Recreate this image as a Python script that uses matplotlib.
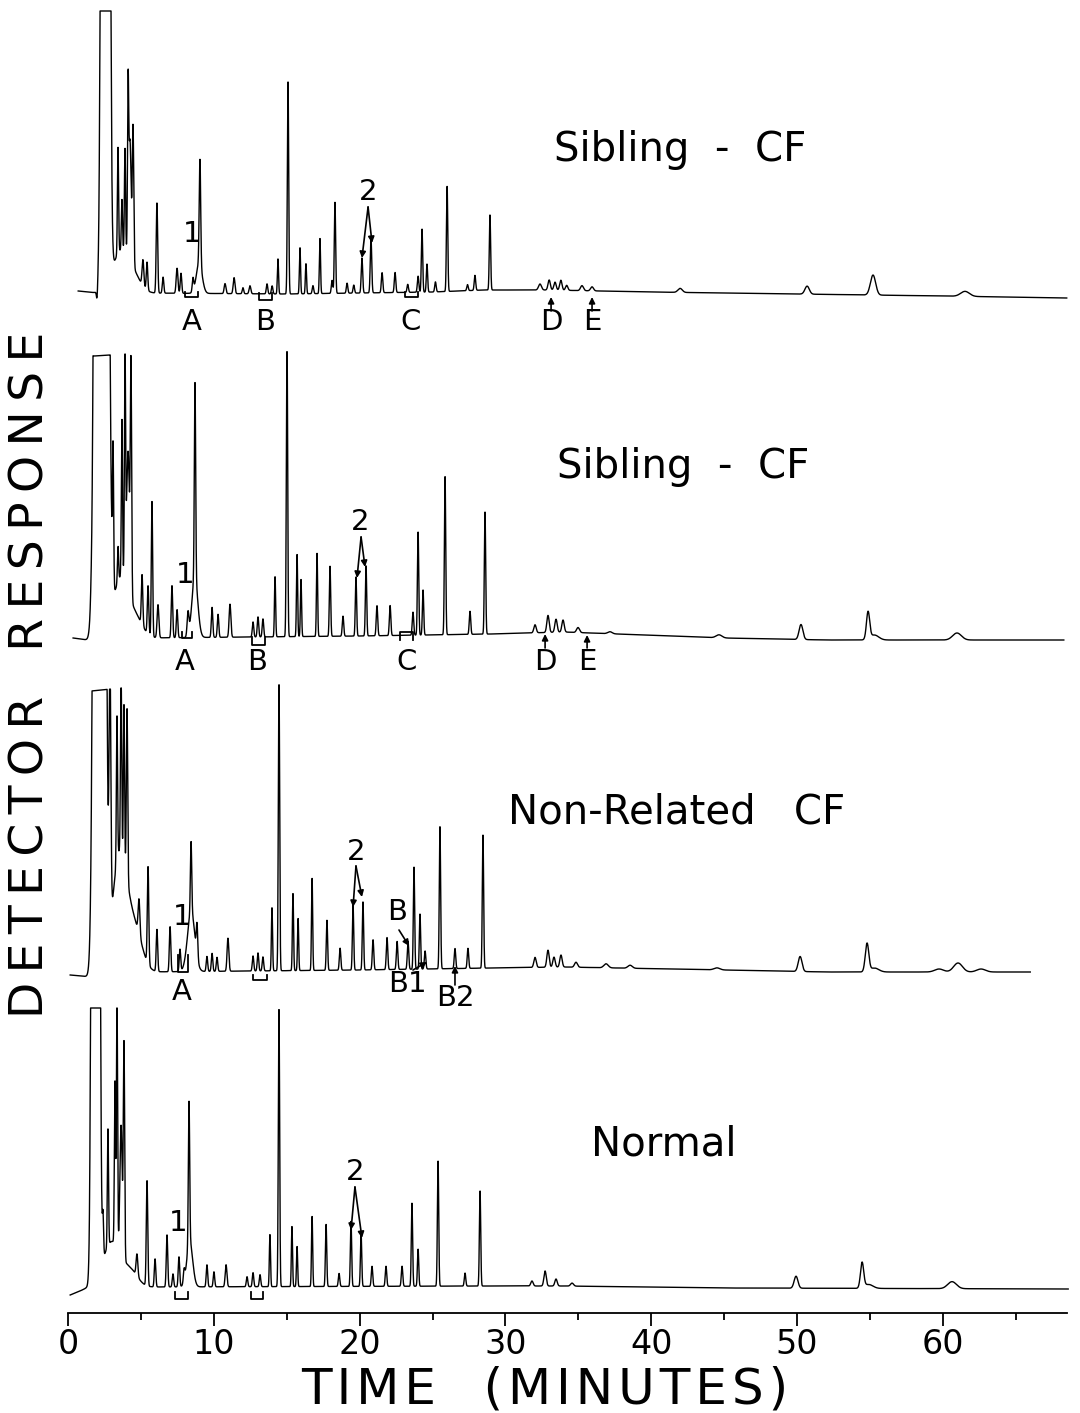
import numpy as np
import matplotlib.pyplot as plt

# Four gas chromatograms (recorder traces).
# retention time (min), peak height (recorder units), peak width sigma (min)

sib1_rt = [1.99, 2.57, 3.6, 4.5, 3.43, 3.70, 3.91, 4.12, 4.25, 4.46, 5.14, 5.42, 6.10, 6.52,
           7.48, 7.75, 8.57, 9.0, 9.05, 10.77, 11.39, 12.0, 12.48, 13.65, 14.0, 14.40, 15.09,
           15.91, 16.32, 16.8, 17.28, 18.11, 18.31, 19.14, 19.6, 20.16, 20.78, 21.54, 22.43,
           23.3, 24.01, 24.28, 24.62, 25.2, 26.0, 27.4, 27.91, 28.94, 32.37, 33.0, 33.4, 33.8,
           34.2, 35.25, 35.94, 41.98, 50.69, 55.21, 61.52]
sib1_height = [-10, 5000, 40, 15, 106, 50, 103, 153, 120, 138, 26, 28, 90, 16,
               25, 20, 13, 30, 105, 10, 16, 6, 8, 10, 8, 35, 212,
               46, 30, 8, 55, 13, 91, 10, 8, 35, 55, 20, 20,
               8, 16, 63, 28, 10, 105, 6, 15, 75, 6, 10, 8, 10,
               5, 5, 4, 4, 8, 20, 5]
sib1_width = [0.04, 0.157, 0.55, 0.5, 0.04, 0.04, 0.04, 0.04, 0.08, 0.05, 0.06, 0.05, 0.05, 0.05,
              0.06, 0.05, 0.05, 0.2, 0.05, 0.06, 0.06, 0.05, 0.06, 0.05, 0.05, 0.04, 0.045,
              0.04, 0.04, 0.05, 0.04, 0.05, 0.045, 0.05, 0.05, 0.05, 0.05, 0.05, 0.05,
              0.05, 0.05, 0.045, 0.045, 0.05, 0.045, 0.05, 0.05, 0.045, 0.1, 0.08, 0.08, 0.08,
              0.08, 0.1, 0.1, 0.15, 0.15, 0.18, 0.3]
sib1_base_t = [0.7, 2.0, 5, 15, 25, 28.5, 33, 40, 50, 60, 68.5]
sib1_base_y = [291, 293, 293, 294, 292, 290, 290, 292, 294, 296, 298]

sib2_rt = [1.65, 2.30, 3.6, 4.6, 3.09, 3.43, 3.70, 3.91, 4.12, 4.32, 5.08, 5.49, 5.76, 6.17,
           7.13, 7.48, 8.23, 8.7, 8.71, 9.88, 10.29, 11.11, 12.69, 13.03, 13.37, 14.2, 15.02,
           15.71, 15.98, 17.08, 17.97, 18.86, 19.75, 20.44, 21.19, 22.09, 23.66, 24.01, 24.35,
           25.86, 27.57, 28.6, 32.03, 32.92, 33.47, 33.95, 34.98, 37.17, 44.65, 50.27, 54.87,
           55.3, 60.97]
sib2_height = [-12, 5000, 60, 20, 135, 35, 157, 220, 140, 225, 50, 48, 135, 33,
               52, 28, 23, 60, 195, 30, 23, 33, 15, 20, 18, 60, 300,
               82, 57, 83, 70, 20, 59, 70, 30, 30, 23, 103, 45,
               158, 23, 122, 8, 17, 13, 12, 5, 2, 3, 15, 27,
               5, 7]
sib2_width = [0.04, 0.245, 0.5, 0.5, 0.04, 0.04, 0.04, 0.04, 0.1, 0.045, 0.05, 0.05, 0.045, 0.06,
              0.05, 0.05, 0.06, 0.2, 0.045, 0.05, 0.05, 0.06, 0.05, 0.05, 0.05, 0.04, 0.045,
              0.04, 0.04, 0.04, 0.045, 0.05, 0.045, 0.045, 0.05, 0.05, 0.05, 0.045, 0.045,
              0.045, 0.05, 0.045, 0.08, 0.08, 0.08, 0.08, 0.1, 0.15, 0.2, 0.13, 0.11,
              0.3, 0.3]
sib2_base_t = [0.35, 1.8, 5, 20, 29, 34, 45, 52, 68.3]
sib2_base_y = [638, 641, 638, 636, 634, 632, 638, 640, 640]

nonrel_rt = [2.16, 2.88, 3.55, 4.6, 3.36, 3.64, 3.84, 4.05, 4.87, 5.49, 6.10, 7.0, 7.68,
             8.45, 8.44, 8.85, 9.53, 9.88, 10.22, 10.97, 12.69, 13.03, 13.37, 13.99, 14.47,
             15.43, 15.78, 16.74, 17.76, 18.66, 19.55, 20.23, 20.92, 21.88, 22.57, 23.32,
             23.73, 24.14, 24.49, 25.51, 26.54, 27.43, 28.46, 32.03, 32.92, 33.33, 33.81,
             34.84, 36.9, 38.55, 44.51, 50.21, 54.8, 55.3, 59.74, 61.04, 62.62]
nonrel_height = [5000, 250, 120, 40, 145, 180, 155, 170, 35, 97, 42, 45, 22,
                 60, 70, 32, 15, 18, 14, 33, 15, 18, 14, 63, 290,
                 77, 52, 92, 50, 22, 65, 68, 30, 32, 28, 28,
                 102, 55, 18, 142, 20, 20, 133, 10, 17, 10, 12,
                 5, 4, 3, 2, 15, 28, 4, 3, 9, 3]
nonrel_width = [0.215, 0.06, 0.5, 0.5, 0.04, 0.04, 0.04, 0.045, 0.06, 0.05, 0.05, 0.05, 0.05,
                0.25, 0.045, 0.05, 0.05, 0.05, 0.05, 0.06, 0.05, 0.05, 0.05, 0.04, 0.045,
                0.04, 0.04, 0.04, 0.045, 0.05, 0.045, 0.045, 0.05, 0.05, 0.05, 0.05,
                0.045, 0.045, 0.05, 0.045, 0.05, 0.05, 0.045, 0.08, 0.08, 0.08, 0.08,
                0.1, 0.15, 0.15, 0.2, 0.13, 0.12, 0.3, 0.3, 0.3, 0.3]
nonrel_base_t = [0.15, 1.6, 5, 20, 29, 34, 45, 52, 66.0]
nonrel_base_y = [975, 977, 972, 970, 968, 967, 970, 972, 972]

normal_rt = [1.89, 3.0, 4.3, 2.40, 2.74, 3.22, 3.36, 3.64, 3.84, 4.73, 5.42, 5.97, 6.79,
             7.2, 7.61, 7.96, 8.35, 8.30, 9.53, 10.01, 10.84, 12.28, 12.69, 13.17, 13.85,
             14.47, 15.36, 15.71, 16.74, 17.70, 18.59, 19.41, 20.1, 20.85, 21.81, 22.91,
             23.59, 24.01, 25.38, 27.23, 28.26, 31.82, 32.72, 33.47, 34.57, 49.93, 54.46,
             54.9, 60.63]
normal_height = [5000, 45, 15, 40, 117, 162, 250, 130, 214, 22, 105, 28, 52,
                 13, 30, 12, 45, 142, 22, 15, 22, 10, 14, 12, 52,
                 277, 60, 40, 70, 62, 13, 65, 53, 20, 20, 20,
                 83, 37, 125, 13, 95, 5, 15, 7, 3, 12, 25,
                 4, 7]
normal_width = [0.144, 0.6, 0.5, 0.04, 0.04, 0.04, 0.04, 0.08, 0.045, 0.06, 0.05, 0.05, 0.05,
                0.05, 0.05, 0.05, 0.2, 0.045, 0.05, 0.05, 0.06, 0.05, 0.05, 0.05, 0.04,
                0.045, 0.04, 0.04, 0.04, 0.045, 0.05, 0.045, 0.045, 0.05, 0.05, 0.05,
                0.045, 0.045, 0.045, 0.05, 0.045, 0.08, 0.08, 0.08, 0.1, 0.13, 0.11,
                0.3, 0.3]
normal_base_t = [0.15, 1.5, 5, 29, 34, 45, 68.6]
normal_base_y = [1295, 1287, 1287, 1286, 1286, 1288, 1289]

trace_names = ["Sibling  -  CF", "Sibling  -  CF", "Non-Related   CF", "Normal"]
trace_caps = [282, 285, 286, 279]   # pen saturation (recorder full scale)

traces = [
    (sib1_rt, sib1_height, sib1_width, sib1_base_t, sib1_base_y),
    (sib2_rt, sib2_height, sib2_width, sib2_base_t, sib2_base_y),
    (nonrel_rt, nonrel_height, nonrel_width, nonrel_base_t, nonrel_base_y),
    (normal_rt, normal_height, normal_width, normal_base_t, normal_base_y),
]


def chromatogram(rt, height, width, base_t, base_y, cap):
    t = np.arange(base_t[0], base_t[-1], 0.005)
    sig = np.zeros_like(t)
    for tc, h, w in zip(rt, height, width):
        sig += h * np.exp(-0.5 * ((t - tc) / w) ** 2)
    sig = np.minimum(sig, cap)
    return t, np.interp(t, base_t, base_y) - sig


def bracket(ax, t0, t1, ytop, ybot, up=False):
    if up:
        ax.plot([t0, t0, t1, t1], [ybot, ytop, ytop, ybot], color="black", lw=1.3)
    else:
        ax.plot([t0, t0, t1, t1], [ytop, ybot, ybot, ytop], color="black", lw=1.3)


def arrow(ax, t0, y0, t1, y1):
    ax.annotate("", xy=(t1, y1), xytext=(t0, y0),
                arrowprops=dict(arrowstyle="-|>", color="black", lw=1.2,
                                mutation_scale=9, shrinkA=0, shrinkB=0))


def spaced(s, gap="\u2009"):
    return gap.join(s)


fig = plt.figure(figsize=(10.8, 14.13), dpi=100)
ax = fig.add_axes([68 / 1080, 0, 1009 / 1080, 1])
ax.set_xlim(0, 69.2)
ax.set_ylim(1413, 0)

for (rt, h, w, bt, by), cap in zip(traces, trace_caps):
    t, y = chromatogram(rt, h, w, bt, by, cap)
    ax.plot(t, y, color="black", lw=1.0)

# trace titles
lab_kw = dict(fontsize=29, ha="center", va="center")
ax.text(41.98, 150, trace_names[0], **lab_kw)
ax.text(42.18, 467, trace_names[1], **lab_kw)
ax.text(41.77, 812, trace_names[2], **lab_kw)
ax.text(40.88, 1145, trace_names[3], **lab_kw)

# peak annotations
ann = dict(fontsize=21, ha="center", va="center")
# trace 1
for s, tx in zip("ABCDE", [8.50, 13.51, 23.46, 33.13, 35.94]):
    ax.text(tx, 322, s, **ann)
bracket(ax, 8.02, 8.92, 292, 297)
bracket(ax, 13.10, 13.99, 293, 300)
bracket(ax, 23.11, 24.01, 292, 297)
arrow(ax, 33.13, 311, 33.13, 297)
arrow(ax, 35.94, 311, 35.94, 297)
ax.text(20.58, 192, "2", **ann)
arrow(ax, 20.58, 207, 20.16, 258)
arrow(ax, 20.58, 207, 20.85, 243)
ax.text(8.50, 234, "1", **ann)
# trace 2
for s, tx in zip("ABCDE", [8.02, 12.96, 23.25, 32.72, 35.60]):
    ax.text(tx, 662, s, **ann)
bracket(ax, 7.82, 8.50, 632, 638)
bracket(ax, 12.62, 13.51, 637, 645)
bracket(ax, 22.77, 23.66, 632, 640, up=True)
arrow(ax, 32.72, 648, 32.72, 634)
arrow(ax, 35.60, 648, 35.60, 635)
ax.text(20.03, 522, "2", **ann)
arrow(ax, 20.10, 537, 19.82, 578)
arrow(ax, 20.10, 537, 20.37, 567)
ax.text(8.02, 575, "1", **ann)
# trace 3
ax.text(7.82, 992, "A", **ann)
bracket(ax, 7.54, 8.23, 955, 972)
bracket(ax, 12.69, 13.65, 975, 980)
ax.text(19.75, 852, "2", **ann)
arrow(ax, 19.75, 866, 19.55, 907)
arrow(ax, 19.75, 866, 20.16, 897)
ax.text(7.82, 917, "1", **ann)
ax.text(22.57, 912, "B", **ann)
arrow(ax, 22.70, 930, 23.39, 946)
ax.text(23.25, 984, "B1", **ann)
arrow(ax, 23.66, 970, 24.62, 962)
ax.text(26.54, 998, "B2", **ann)
arrow(ax, 26.54, 985, 26.54, 966)
# trace 4
ax.text(19.68, 1172, "2", **ann)
arrow(ax, 19.68, 1187, 19.41, 1230)
arrow(ax, 19.68, 1187, 20.16, 1238)
ax.text(7.54, 1223, "1", **ann)
bracket(ax, 7.34, 8.23, 1292, 1299)
bracket(ax, 12.55, 13.37, 1292, 1299)

# time axis
for side in ["left", "right", "top"]:
    ax.spines[side].set_visible(False)
ax.spines["bottom"].set_position(("data", 1313))
ax.spines["bottom"].set_bounds(0, 68.5)
ax.spines["bottom"].set_linewidth(1.3)
ax.set_xticks(np.arange(0, 61, 10))
ax.set_xticks(np.arange(5, 66, 10), minor=True)
ax.tick_params(axis="x", which="major", length=9, width=1.3, labelsize=24, pad=2)
ax.tick_params(axis="x", which="minor", length=5, width=1.3)
ax.set_yticks([])
ax.patch.set_alpha(0)

fig.text(545 / 1080, 1 - 1390 / 1413, spaced("TIME", "\u200a") + "   " + spaced("(MINUTES)", "\u200a"),
         fontsize=36, ha="center", va="center")
fig.text(31 / 1080, 1 - 675 / 1413, spaced("DETECTOR") + "   " + spaced("RESPONSE"),
         fontsize=34, rotation=90, ha="center", va="center")

fig.savefig("out.png", dpi=100)
